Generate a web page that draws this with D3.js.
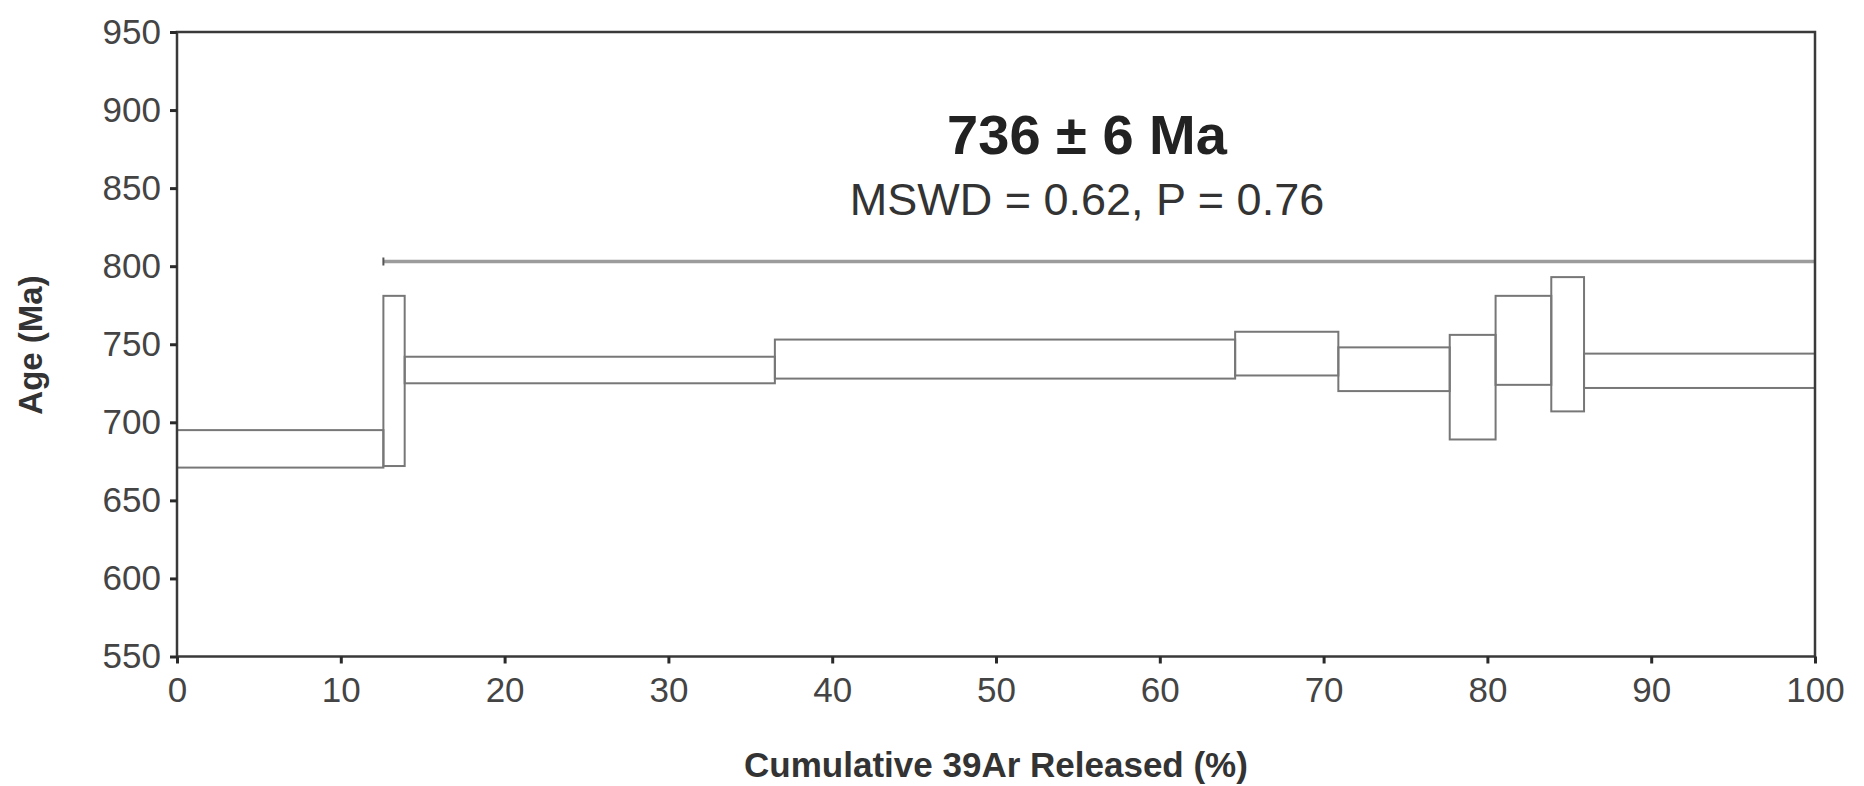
<!DOCTYPE html>
<html>
<head>
<meta charset="utf-8">
<script src="https://cdnjs.cloudflare.com/ajax/libs/d3/7.8.5/d3.min.js"></script>
<style>
  body { margin: 0; background: #fff; }
  svg { display: block; font-family: 'Liberation Sans', Arial, sans-serif; }
</style>
</head>
<body>
<svg id="canvas" width="1864" height="786"></svg>
<script>
// step boundaries, cumulative 39Ar released (%)
var stepEdges = [0, 12.6, 13.9, 36.5, 64.6, 70.9, 77.7, 80.5, 83.9, 85.9, 100];
// apparent age error envelope of each step (Ma)
var ageLow = [671, 672, 725, 728, 730, 720, 689, 724, 707, 722];
var ageHigh = [695, 781, 742, 753, 758, 748, 756, 781, 793, 744];

var plateauFrom = [12.6];
var plateauTo = [100];
var plateauAge = [803];

var xTicks = [0, 10, 20, 30, 40, 50, 60, 70, 80, 90, 100];
var yTicks = [550, 600, 650, 700, 750, 800, 850, 900, 950];

var titleText = '736 \u00b1 6 Ma';
var statsText = 'MSWD = 0.62, P = 0.76';

var margin = {top: 32, right: 49, bottom: 129.5, left: 177};
var width = 1864 - margin.left - margin.right;
var height = 786 - margin.top - margin.bottom;

var svg = d3.select('#canvas');
var chart = svg
  .append('g')
  .attr('transform', 'translate(' + margin.left + ',' + margin.top + ')');

var x = d3.scaleLinear().domain([0, 100]).range([0, width]);
var y = d3.scaleLinear().domain([550, 950]).range([height, 0]);

var steps = ageLow.map(function(lo, i) {
  return {x0: stepEdges[i], x1: stepEdges[i + 1], lo: lo, hi: ageHigh[i]};
});

// spectrum boxes
chart
  .selectAll('.step')
  .data(steps)
  .enter()
  .append('rect')
  .attr('class', 'step')
  .attr('x', d => x(d.x0))
  .attr('width', d => x(d.x1) - x(d.x0))
  .attr('y', d => y(d.hi))
  .attr('height', d => y(d.lo) - y(d.hi))
  .style('fill', 'none')
  .style('stroke', '#777')
  .style('stroke-width', 2);

// plateau bar
chart
  .append('line')
  .attr('x1', x(plateauFrom[0]))
  .attr('x2', x(plateauTo[0]))
  .attr('y1', y(plateauAge[0]))
  .attr('y2', y(plateauAge[0]))
  .style('stroke', '#9c9c9c')
  .style('stroke-width', 3.5);
chart
  .append('line')
  .attr('x1', x(plateauFrom[0]))
  .attr('x2', x(plateauFrom[0]))
  .attr('y1', y(plateauAge[0]) - 4)
  .attr('y2', y(plateauAge[0]) + 4)
  .style('stroke', '#555')
  .style('stroke-width', 2);

// frame
chart
  .append('rect')
  .attr('width', width)
  .attr('height', height)
  .style('fill', 'none')
  .style('stroke', '#3a3a3a')
  .style('stroke-width', 2.5);

var xAxis = chart
  .append('g')
  .attr('transform', 'translate(0,' + height + ')')
  .call(d3.axisBottom(x).tickValues(xTicks).tickSize(7).tickPadding(14).tickSizeOuter(0));
var yAxis = chart
  .append('g')
  .call(d3.axisLeft(y).tickValues(yTicks).tickSize(7).tickPadding(9).tickSizeOuter(0));

[xAxis, yAxis].forEach(function(ax) {
  ax.select('.domain').remove();
  ax.selectAll('line').style('stroke', '#2a2a2a').style('stroke-width', 3);
  ax.selectAll('text')
    .style('font-size', '35px')
    .style('fill', '#444')
    .style('font-family', "'Liberation Sans', Arial, sans-serif");
});

// axis titles
svg
  .append('text')
  .attr('x', margin.left + width / 2)
  .attr('y', 777)
  .attr('text-anchor', 'middle')
  .style('font-size', '35px')
  .style('font-weight', 'bold')
  .style('fill', '#333')
  .text('Cumulative 39Ar Released (%)');

svg
  .append('text')
  .attr('transform', 'translate(42,345) rotate(-90)')
  .attr('text-anchor', 'middle')
  .style('font-size', '33px')
  .style('font-weight', 'bold')
  .style('fill', '#333')
  .text('Age (Ma)');

// age annotation
svg
  .append('text')
  .attr('x', 1087)
  .attr('y', 154)
  .attr('text-anchor', 'middle')
  .style('font-size', '56px')
  .style('font-weight', 'bold')
  .style('fill', '#222')
  .text(titleText);

svg
  .append('text')
  .attr('x', 1087)
  .attr('y', 215)
  .attr('text-anchor', 'middle')
  .style('font-size', '45px')
  .style('fill', '#333')
  .text(statsText);
</script>
</body>
</html>
